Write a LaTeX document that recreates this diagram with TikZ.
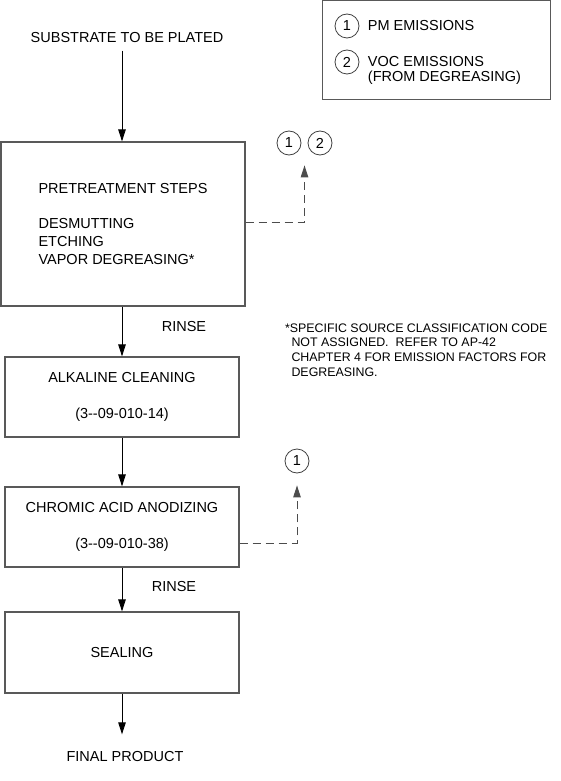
\documentclass[tikz,border=0pt]{standalone}
\usepackage{fontspec}
\setmainfont{Liberation Sans}
\usetikzlibrary{positioning,arrows.meta,calc}
\tikzset{>={Triangle[length=12pt,width=7.5pt]}}

\begin{document}
\begin{tikzpicture}[x=1pt, y=-1pt, font=\fontsize{14.5}{17.8}\selectfont,
    stepbox/.style={draw=black!65, line width=1.2pt, minimum width=234pt,
                    minimum height=80pt, align=center},
    emis/.style={circle, draw=black!75, line width=0.8pt, minimum size=24pt,
                 inner sep=0pt},
    flow/.style={->, line width=0.9pt},
    vent/.style={->, draw=black!70, line width=0.9pt,
                 dash pattern=on 8pt off 5pt}]

      \useasboundingbox (0,0) rectangle (561,781);

      % legend
      \node[draw=black!65, line width=1pt, minimum width=228pt,
            minimum height=99pt] (legend) at (436,50.5) {};
      \node[emis] (leg1) at (347,26) {1};
      \node[emis] (leg2) at (347,62) {2};
      \node[right=5pt of leg1] (legpm) {PM EMISSIONS};
      \node[right=5pt of leg2] (legvoc) {VOC EMISSIONS};
      \node[anchor=north west, inner ysep=0pt] (legfrom) at (legvoc.south west) {(FROM DEGREASING)};

      % process steps
      \node (substrate) at (127,38) {SUBSTRATE TO BE PLATED};
      \node[stepbox, minimum width=244pt, minimum height=164pt, align=left] (pre) at (123,224)
            {PRETREATMENT STEPS\\[17pt]DESMUTTING\\ETCHING\\VAPOR DEGREASING*};
      \node[stepbox] (alk) at (122,397) {ALKALINE CLEANING\\[19pt](3-{}-09-010-14)};
      \node[stepbox] (chrom) at (122,527) {CHROMIC ACID ANODIZING\\[18pt](3-{}-09-010-38)};
      \node[stepbox, minimum height=81pt] (seal) at (122,652.5) {SEALING};
      \node (final) at (125,756) {FINAL PRODUCT};

      \node (rinse1) at (184,327) {RINSE};
      \node (rinse2) at (174,587) {RINSE};

      % emission points
      \node[emis] (pm1) at (289,143) {1};
      \node[emis] (voc2) at (320,143) {2};
      \node[emis] (pm1b) at (297,461) {1};
      \coordinate (ventA) at ($(pm1.south)!0.5!(voc2.south)$);

      \node[anchor=north west, align=left, font=\fontsize{12.4}{14.8}\selectfont] (note) at (281.5,320)
            {*SPECIFIC SOURCE CLASSIFICATION CODE\\
             \hspace*{6.5pt}NOT ASSIGNED.\ \ REFER TO AP-42\\
             \hspace*{6.5pt}CHAPTER 4 FOR EMISSION FACTORS FOR\\
             \hspace*{6.5pt}DEGREASING.};

      \draw[flow, shorten <=4pt] (substrate.south -| alk.north) -- (alk.north |- pre.north);
      \draw[flow] (alk.north |- pre.south) -- (alk.north);
      \draw[flow] (alk.south) -- (chrom.north);
      \draw[flow] (chrom.south) -- (seal.north);
      \draw[flow, shorten >=13pt] (seal.south) -- (seal.south |- final.north);

      \draw[vent, shorten >=10pt] ([yshift=2pt]pre.east) -| (ventA);
      \draw[vent, shorten >=12pt] ([yshift=-16pt]chrom.east) -| (pm1b.south);

\end{tikzpicture}
\end{document}
